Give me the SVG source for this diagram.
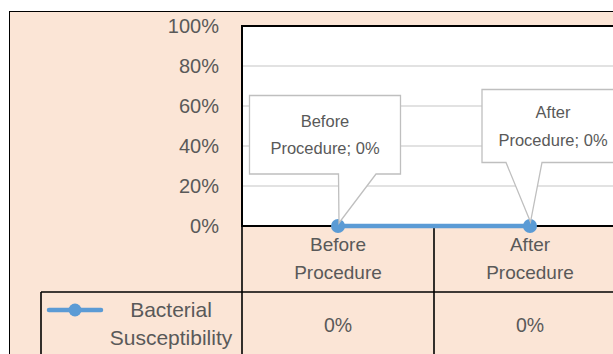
<svg xmlns="http://www.w3.org/2000/svg" width="613" height="354" viewBox="0 0 613 354">
  <style>
    text { font-family: "Liberation Sans", Arial, sans-serif; fill: #595959; }
    .ax { font-size: 20px; text-anchor: end; }
    .cat { font-size: 19px; text-anchor: middle; }
    .val { font-size: 19.5px; text-anchor: middle; }
    .leg { font-size: 21px; text-anchor: middle; }
    .co { font-size: 16.5px; text-anchor: middle; }
    .grid { stroke: #D9D9D9; stroke-width: 1.5; }
    .tbl { stroke: #000; stroke-width: 1.6; fill: none; }
    .callout { fill: #FFFFFF; stroke: #BFBFBF; stroke-width: 1.3; }
    .series { stroke: #5B9BD5; stroke-width: 4.5; fill: none; stroke-linecap: round; }
    .pt { fill: #5B9BD5; }
  </style>
  <g id="background">
    <rect x="9.5" y="11.5" width="620" height="360" fill="#FBE5D6" stroke="#000" stroke-width="1"/>
    <rect x="242" y="26" width="380" height="200" fill="#FFFFFF" stroke="#000" stroke-width="2"/>
  </g>
  <g id="gridlines">
    <line class="grid" x1="243" y1="66" x2="613" y2="66"/>
    <line class="grid" x1="243" y1="106" x2="613" y2="106"/>
    <line class="grid" x1="243" y1="146" x2="613" y2="146"/>
    <line class="grid" x1="243" y1="186" x2="613" y2="186"/>
  </g>
  <g id="y-axis">
    <text class="ax" x="219" y="33">100%</text>
    <text class="ax" x="219" y="73">80%</text>
    <text class="ax" x="219" y="113">60%</text>
    <text class="ax" x="219" y="153">40%</text>
    <text class="ax" x="219" y="193">20%</text>
    <text class="ax" x="219" y="233">0%</text>
  </g>
  <g id="data-table">
    <line class="tbl" x1="242" y1="226" x2="613" y2="226"/>
    <line class="tbl" x1="242" y1="26" x2="242" y2="354"/>
    <line class="tbl" x1="434" y1="226" x2="434" y2="354"/>
    <line class="tbl" x1="41" y1="292" x2="613" y2="292"/>
    <line class="tbl" x1="41" y1="292" x2="41" y2="354"/>
    <text class="cat" x="338" y="251">Before</text>
    <text class="cat" x="338" y="279">Procedure</text>
    <text class="cat" x="530" y="251">After</text>
    <text class="cat" x="530" y="279">Procedure</text>
    <text class="val" x="338" y="332">0%</text>
    <text class="val" x="530" y="332">0%</text>
  </g>
  <g id="legend">
    <line class="series" x1="49" y1="310" x2="101" y2="310"/>
    <circle class="pt" cx="75" cy="310" r="6.5"/>
    <text class="leg" x="171" y="317">Bacterial</text>
    <text class="leg" x="171" y="345">Susceptibility</text>
  </g>
  <g id="connectors">
    <line class="series" x1="338" y1="226" x2="530" y2="226"/>
  </g>
  <g id="point-before">
    <circle class="pt" cx="338" cy="226" r="7"/>
  </g>
  <g id="point-after">
    <circle class="pt" cx="530" cy="226" r="7"/>
  </g>
  <g id="label-before">
    <path class="callout" d="M249.5,95.5 H400.5 V174 H376 L339,223 L338.5,174 H249.5 Z"/>
    <text class="co" x="325" y="127">Before</text>
    <text class="co" x="325" y="154">Procedure; 0%</text>
  </g>
  <g id="label-after">
    <path class="callout" d="M482,89.5 H625 V162.5 H542 L530.5,222 L506,162.5 H482 Z"/>
    <text class="co" x="553" y="118">After</text>
    <text class="co" x="553" y="146">Procedure; 0%</text>
  </g>
</svg>
